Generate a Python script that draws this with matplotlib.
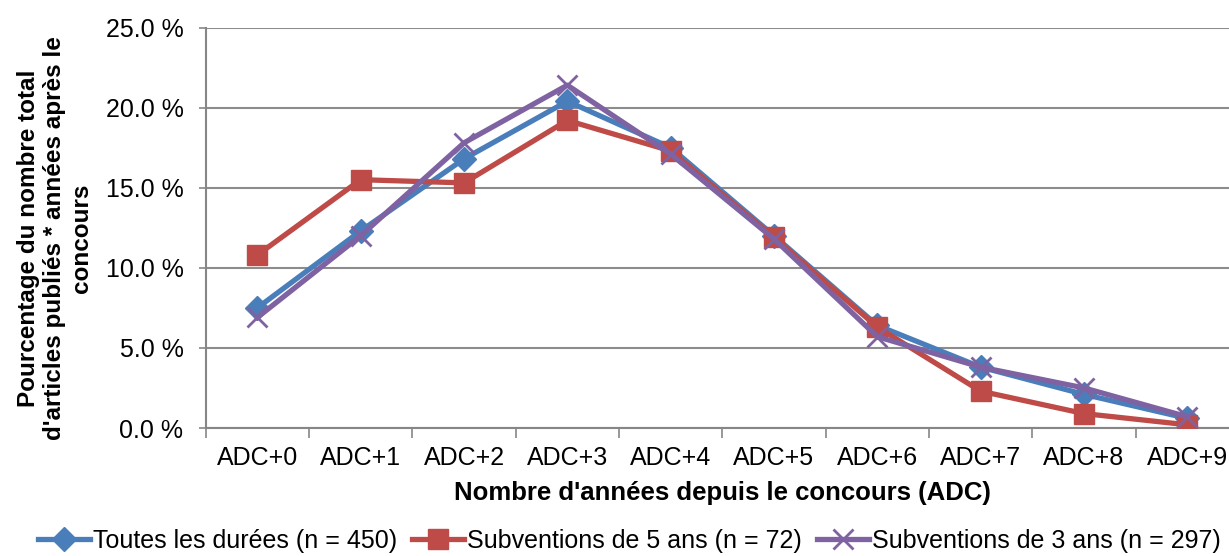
import matplotlib
matplotlib.use("Agg")
import matplotlib.pyplot as plt
from matplotlib.ticker import FuncFormatter

categories = ["ADC+0", "ADC+1", "ADC+2", "ADC+3", "ADC+4", "ADC+5", "ADC+6", "ADC+7", "ADC+8", "ADC+9"]
toutes = [7.5, 12.3, 16.8, 20.4, 17.5, 12.0, 6.4, 3.8, 2.1, 0.6]
cinq_ans = [10.8, 15.5, 15.3, 19.2, 17.3, 11.9, 6.3, 2.3, 0.9, 0.2]
trois_ans = [6.9, 12.0, 17.8, 21.4, 17.1, 11.8, 5.7, 3.8, 2.5, 0.7]
labels = ["Toutes les durées (n = 450)", "Subventions de 5 ans (n = 72)", "Subventions de 3 ans (n = 297)"]

plt.rcParams['font.family'] = ['Liberation Sans', 'DejaVu Sans']

W, H = 1229, 556
fig = plt.figure(figsize=(W / 100, H / 100), dpi=100)
left_px, right_px, top_px, bot_px = 205.7, 1239, 27.5, 428
ax = fig.add_axes([left_px / W, 1 - bot_px / H, (right_px - left_px) / W, (bot_px - top_px) / H])

x = list(range(len(categories)))
l1, = ax.plot(x, toutes, color='#4A7EBB', lw=3.8, marker='D', ms=12, zorder=3)
l2, = ax.plot(x, cinq_ans, color='#BE4B48', lw=3.8, marker='s', ms=14, zorder=3)
l3, = ax.plot(x, trois_ans, color='#7F62A1', lw=3.8, marker='x', ms=14, mew=2, zorder=4)

ax.set_xlim(-0.5, len(categories) - 0.5)
ax.set_ylim(0, 25)
ax.set_yticks([0, 5, 10, 15, 20, 25])
ax.yaxis.set_major_formatter(FuncFormatter(lambda v, p: f"{v:.1f} %"))
ax.set_xticks(x)
ax.set_xticklabels(categories)
ax.set_xticks([i - 0.5 for i in range(len(categories) + 1)], minor=True)
ax.tick_params(axis='x', which='major', length=0, pad=13, labelsize=18)
ax.tick_params(axis='x', which='minor', length=7, width=1.2, color='#868686')
ax.tick_params(axis='y', length=5, width=1.2, color='#868686', labelsize=18, pad=11)
ax.grid(axis='y', color='#8C8C8C', lw=1.5, zorder=0)
for s in ['top', 'right']:
    ax.spines[s].set_visible(False)
for s in ['left', 'bottom']:
    ax.spines[s].set_color('#868686')
    ax.spines[s].set_linewidth(1.5)

ax.set_xlabel("Nombre d'années depuis le concours (ADC)", fontsize=18.5, fontweight='bold', labelpad=8)
fig.text(55 / W, 1 - 238 / H, "Pourcentage du nombre total\nd'articles publiés * années après le\nconcours",
         rotation=90, ha='center', va='center', fontsize=17.5, fontweight='bold', linespacing=1.2,
         multialignment='center')

fig.legend([l1, l2, l3], labels, loc='center', bbox_to_anchor=(629 / W, 1 - 541 / H), ncol=3, frameon=False,
           prop={'size': 18}, handlelength=2.1, handletextpad=0.1, columnspacing=0.6,
           borderaxespad=0, borderpad=0)

fig.savefig("out.png", dpi=100)
